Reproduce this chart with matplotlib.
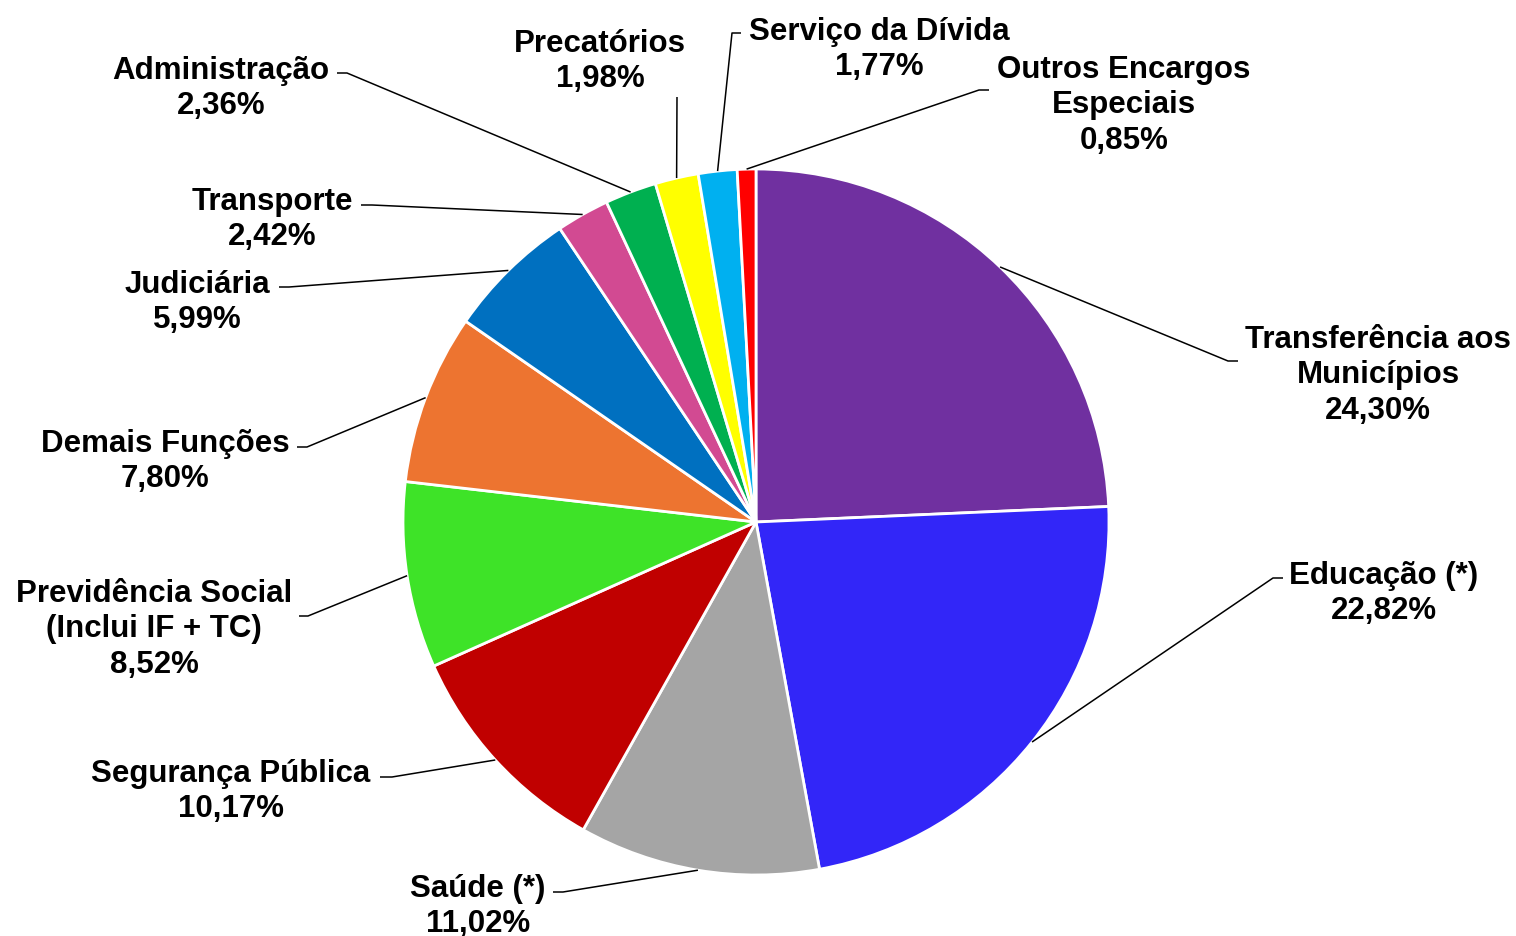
import numpy as np
import matplotlib
matplotlib.use("Agg")
import matplotlib.pyplot as plt

# shares of the budget by function (%)
categories = ["Transferência aos\nMunicípios", "Educação (*)", "Saúde (*)",
              "Segurança Pública", "Previdência Social\n(Inclui IF + TC)",
              "Demais Funções", "Judiciária", "Transporte", "Administração",
              "Precatórios", "Serviço da Dívida", "Outros Encargos\nEspeciais"]
shares = [24.30, 22.82, 11.02, 10.17, 8.52, 7.80, 5.99, 2.42, 2.36, 1.98, 1.77, 0.85]

colors = ["#7030A0", "#3226F8", "#A5A5A5", "#C00000", "#3EE328", "#ED7430",
          "#0070C0", "#D24A92", "#00B050", "#FFFF00", "#00B0F0", "#FF0000"]

# label layout in pixels (text centre, leader elbow, leader tail)
label_pos = [(1378, 372), (1384, 590), (478, 903), (231, 788), (154, 626),
             (165, 458), (197, 299), (272, 216), (221, 85), (600, 58),
             (879, 46), (1124, 102)]
elbows = [(1228, 361, 1238), (1273, 578, 1283), (563, 892, 553),
          (392, 777, 380), (308, 616, 299), (307, 447, 297),
          (289, 287, 279), (372, 205, 361), (347, 73, 337),
          (677, 97, 677), (732, 33, 741), (979, 90, 989)]

W, H = 1516, 936
CX, CY, R = 756, 522, 353


def px(x, y):
    return (x - CX) / R, (CY - y) / R


fig = plt.figure(figsize=(W / 100, H / 100), dpi=100)
ax = fig.add_axes([0, 0, 1, 1])

wedges, _ = ax.pie(shares, colors=colors, startangle=90, counterclock=False,
                   radius=1, center=(0, 0),
                   wedgeprops=dict(edgecolor="white", linewidth=2))

for w, cat, v, (tx, ty), (ex, ey, hx) in zip(wedges, categories, shares, label_pos, elbows):
    mid = np.deg2rad((w.theta1 + w.theta2) / 2)
    sx, sy = np.cos(mid), np.sin(mid)
    x1, y1 = px(ex, ey)
    x2, _ = px(hx, ey)
    ax.plot([sx, x1, x2], [sy, y1, y1], color="black", lw=1.1,
            solid_capstyle="butt", zorder=3)
    txt = cat + "\n" + f"{v:.2f}".replace(".", ",") + "%"
    lx, ly = px(tx, ty + 3.5)
    ax.text(lx, ly, txt, ha="center", va="center", multialignment="center",
            fontsize=22.5, fontweight="bold", family="Liberation Sans",
            linespacing=1.26)

ax.set_xlim(-CX / R, (W - CX) / R)
ax.set_ylim((CY - H) / R, CY / R)
ax.set_aspect("auto")
ax.axis("off")

fig.savefig("out.png", dpi=100, facecolor="white")
